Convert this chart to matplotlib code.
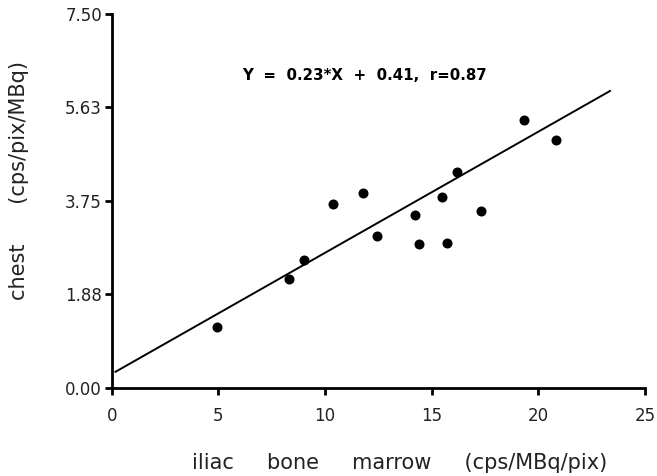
import matplotlib
matplotlib.use("Agg")
import matplotlib.pyplot as plt

# Data
iliac = [4.92, 8.33, 9.02, 10.39, 11.77, 12.44, 14.21, 14.41, 15.47, 15.73, 16.20, 17.31, 19.33, 20.82]
chest = [1.22, 2.18, 2.56, 3.69, 3.92, 3.05, 3.47, 2.89, 3.84, 2.91, 4.34, 3.55, 5.37, 4.98]
fit_x = [0.18, 23.36]
fit_y = [0.32, 5.96]
x_ticks = [0, 5, 10, 15, 20, 25]
y_ticks = [0.00, 1.88, 3.75, 5.63, 7.50]
y_tick_labels = ["0.00", "1.88", "3.75", "5.63", "7.50"]
annotation = "Y  =  0.23*X  +  0.41,  r=0.87"

plt.rcParams['font.family'] = ['DejaVu Sans']

W, H = 657, 476
fig = plt.figure(figsize=(W / 100, H / 100), dpi=100)
left = 111.7 / W
right = 645 / W
bottom = 1 - 387.7 / H
top = 1 - 14.3 / H
ax = fig.add_axes([left, bottom, right - left, top - bottom])

ax.scatter(iliac, chest, s=52, color='black', zorder=3, linewidths=0)
ax.plot(fit_x, fit_y, color='black', linewidth=1.4)

ax.set_xlim(0, 25)
ax.set_ylim(0, 7.5)
ax.set_xticks(x_ticks)
ax.set_xticklabels([str(t) for t in x_ticks])
ax.set_yticks(y_ticks)
ax.set_yticklabels(y_tick_labels)

for s in ['top', 'right']:
    ax.spines[s].set_visible(False)
for s in ['left', 'bottom']:
    ax.spines[s].set_linewidth(2.0)
    ax.spines[s].set_color('black')
    ax.spines[s].set_capstyle('projecting')

ax.tick_params(axis='both', direction='out', length=5, width=2.0,
               labelsize=12, colors='black', labelcolor='#222222')
ax.tick_params(axis='x', pad=9)
ax.tick_params(axis='y', pad=2)

ax.text(0.5 * (241.7 + 488) / W, 1 - 76 / H, annotation, transform=fig.transFigure,
        ha='center', va='center', fontsize=10.8, fontweight='bold')

fig.text(0.5 * (175 + 625) / W, 1 - 463 / H, "iliac     bone     marrow     (cps/MBq/pix)",
         ha='center', va='center', fontsize=15, color='#222222')
fig.text(19 / W, 1 - 181 / H, "chest      (cps/pix/MBq)",
         ha='center', va='center', fontsize=15, rotation=90, color='#222222')

fig.savefig("out.png", dpi=100)
